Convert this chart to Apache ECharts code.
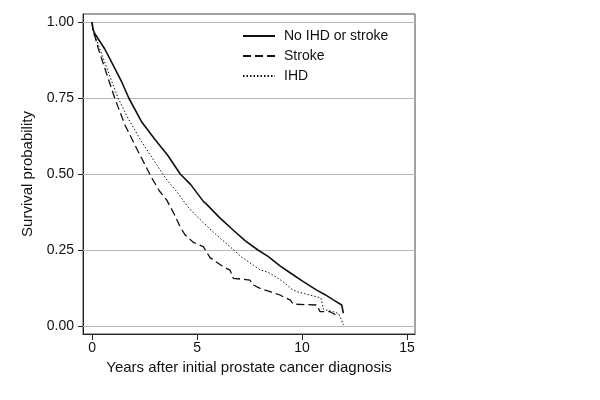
<!DOCTYPE html>
<html>
<head>
<meta charset="utf-8">
<script src="https://cdn.jsdelivr.net/npm/echarts@6/dist/echarts.min.js"></script>
<style>html,body{margin:0;padding:0;background:#fff}#c{width:600px;height:400px}</style>
</head>
<body>
<div id="c"></div>
<script>
var seriesNames = ['No IHD or stroke', 'Stroke', 'IHD'];
var xTicks = [0, 5, 10, 15];
var yTicks = [0, 0.25, 0.5, 0.75, 1];
var gridValues = [0, 0.25, 0.5, 0.75, 1];

var noIhdTime = [0,0.05,0.13,0.29,0.6,0.92,1.4,1.75,2.35,2.98,3.62,4.2,4.7,5.3,5.46,6.1,6.73,7.3,7.9,8.4,8.95,9.5,10.06,10.7,11.1,11.49,11.89,11.95,11.97];
var noIhdSurv = [1.0,0.975,0.962,0.945,0.912,0.87,0.805,0.75,0.673,0.615,0.56,0.5,0.465,0.41,0.4,0.355,0.315,0.28,0.25,0.228,0.198,0.172,0.146,0.118,0.103,0.086,0.069,0.065,0.042];

var strokeTime = [0,0.05,0.14,0.29,0.76,1.08,1.56,2.19,2.83,3.2,3.56,3.9,4.19,4.43,4.83,5.3,5.62,6.25,6.57,6.73,7.52,7.68,8.0,8.48,8.95,9.11,9.43,9.59,10.7,10.86,11.33,11.49,11.75];
var strokeSurv = [1.0,0.965,0.952,0.914,0.816,0.75,0.662,0.575,0.489,0.445,0.414,0.37,0.327,0.3,0.275,0.261,0.225,0.195,0.184,0.157,0.151,0.135,0.124,0.113,0.102,0.096,0.086,0.072,0.069,0.047,0.047,0.041,0.03];

var ihdTime = [0,0.05,0.14,0.29,0.76,1.24,1.71,2.35,2.98,3.5,4.0,4.55,5.0,5.5,6.0,6.57,7.1,7.68,8.0,8.4,8.8,9.11,9.5,9.75,10.2,10.7,10.9,11.02,11.49,11.73,11.85,11.97];
var ihdSurv = [1.0,0.97,0.955,0.927,0.838,0.75,0.684,0.607,0.541,0.486,0.445,0.393,0.36,0.327,0.295,0.261,0.228,0.2,0.185,0.176,0.16,0.145,0.122,0.113,0.105,0.096,0.092,0.055,0.047,0.041,0.025,0.003];

function zip(a, b) { return a.map(function (v, i) { return [v, b[i]]; }); }

var chart = echarts.init(document.getElementById('c'), null, {renderer: 'canvas'});
var axisColor = '#222';
var font = '"Liberation Sans", Arial, sans-serif';
chart.setOption({
  animation: false,
  backgroundColor: '#fff',
  textStyle: {fontFamily: font},
  grid: {left: 83, top: 14, right: 185, bottom: 66, show: true, borderColor: '#444', borderWidth: 1, containLabel: false},
  legend: {
    orient: 'vertical', left: 242, top: 29, padding: 0, itemWidth: 32, itemHeight: 14, itemGap: 6,
    itemStyle: {opacity: 0},
    textStyle: {fontSize: 14, color: '#111', fontFamily: font, padding: [0, 0, 0, 4]},
    data: seriesNames
  },
  xAxis: {
    type: 'value', min: -0.43, max: 15.38,
    name: 'Years after initial prostate cancer diagnosis', nameLocation: 'middle', nameGap: 26,
    nameTextStyle: {fontSize: 15, color: '#111', fontFamily: font},
    axisLine: {show: true, onZero: false, lineStyle: {color: axisColor, width: 1}},
    axisTick: {show: true, length: 6, customValues: xTicks, lineStyle: {color: axisColor}},
    axisLabel: {fontSize: 14, color: '#111', margin: 7, customValues: xTicks, fontFamily: font},
    splitLine: {show: false}
  },
  yAxis: {
    type: 'value', min: -0.0263, max: 1.0263,
    name: 'Survival probability', nameLocation: 'middle', nameGap: 40,
    nameTextStyle: {fontSize: 15, color: '#111', fontFamily: font},
    axisLine: {show: true, onZero: false, lineStyle: {color: axisColor, width: 1}},
    axisTick: {show: true, length: 5, customValues: yTicks, lineStyle: {color: axisColor}},
    axisLabel: {fontSize: 14, color: '#111', margin: 9, customValues: yTicks, fontFamily: font,
      formatter: function (v) { return v.toFixed(2); }},
    splitLine: {show: false}
  },
  series: [
    {
      name: seriesNames[0], type: 'line', data: zip(noIhdTime, noIhdSurv), symbol: 'none', z: 5,
      lineStyle: {color: '#111', width: 1.6, type: 'solid'}, itemStyle: {color: '#111'},
      markLine: {
        silent: true, symbol: ['none', 'none'], label: {show: false}, z: 1,
        lineStyle: {color: '#b8b8b8', type: 'solid', width: 1},
        data: gridValues.map(function (v) { return {yAxis: v}; })
      }
    },
    {
      name: seriesNames[1], type: 'line', data: zip(strokeTime, strokeSurv), symbol: 'none', z: 4,
      lineStyle: {color: '#111', width: 1.3, type: [8, 4]}, itemStyle: {color: '#111'}
    },
    {
      name: seriesNames[2], type: 'line', data: zip(ihdTime, ihdSurv), symbol: 'none', z: 3,
      lineStyle: {color: '#111', width: 1, type: [1.5, 2]}, itemStyle: {color: '#111'}
    }
  ]
});
</script>
</body>
</html>
